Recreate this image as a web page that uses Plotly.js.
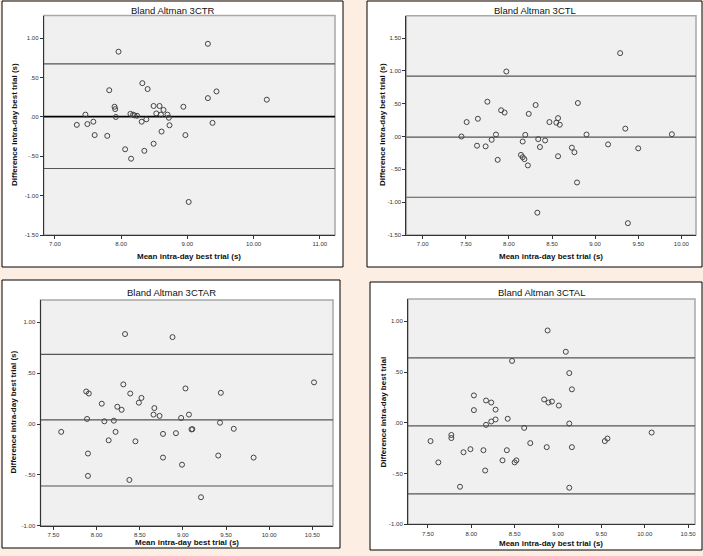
<!DOCTYPE html>
<html>
<head>
<meta charset="utf-8">
<script src="https://cdn.plot.ly/plotly-3.0.1.min.js"></script>
<style>html,body{margin:0;padding:0;background:#fdeee3;}#chart{width:703px;height:556px;}</style>
</head>
<body>
<div id="chart"></div>
<script>
// ---------- DATA ----------
const titles = ["Bland Altman 3CTR", "Bland Altman 3CTL", "Bland Altman 3CTAR", "Bland Altman 3CTAL"];
const xTitle = "Mean intra-day best trial (s)";
const yTitles = ["Difference intra-day best trial (s)", "Difference intra-day best trial (s)",
                 "Difference intra-day best trial (s)", "Difference intra-day best trial"];

// 3CTR
const ctrMean = [7.33,7.46,7.49,7.58,7.60,7.79,7.82,7.90,7.91,7.92,7.96,8.06,8.14,8.15,8.18,8.20,8.24,8.32,8.31,8.35,
                 8.38,8.40,8.49,8.49,8.53,8.58,8.60,8.61,8.64,8.70,8.72,8.73,8.94,8.97,9.02,9.31,9.31,9.38,9.44,10.20];
const ctrDiff = [-0.10,0.03,-0.09,-0.06,-0.23,-0.24,0.34,0.13,0.10,0.00,0.83,-0.41,0.04,-0.53,0.03,0.02,0.015,0.43,-0.06,-0.43,
                 -0.03,0.355,0.14,-0.34,0.045,0.14,0.03,-0.185,0.09,0.03,-0.01,-0.105,0.13,-0.23,-1.08,0.93,0.24,-0.075,0.325,0.22];
// 3CTL
const ctlMean = [7.45,7.51,7.63,7.64,7.73,7.75,7.80,7.85,7.87,7.91,7.95,7.97,8.14,8.16,8.16,8.18,8.19,8.22,8.23,8.31,
                 8.33,8.34,8.36,8.42,8.47,8.55,8.57,8.57,8.59,8.73,8.76,8.79,8.80,8.90,9.15,9.29,9.35,9.38,9.50,9.89];
const ctlDiff = [0.00,0.22,-0.14,0.27,-0.15,0.53,-0.05,0.03,-0.355,0.40,0.365,0.99,-0.28,-0.315,-0.076,-0.345,0.025,-0.44,0.345,0.48,
                 -1.16,-0.04,-0.16,-0.06,0.22,0.21,0.28,-0.30,0.18,-0.17,-0.24,-0.70,0.51,0.03,-0.12,1.27,0.12,-1.32,-0.18,0.035];
// 3CTAR
const ctarMean = [7.59,7.88,7.91,7.89,7.90,7.90,8.06,8.09,8.14,8.20,8.22,8.24,8.29,8.31,8.33,8.38,8.39,8.45,8.49,8.52,
                  8.66,8.67,8.73,8.77,8.77,8.88,8.92,8.98,8.99,9.03,9.07,9.10,9.11,9.21,9.41,9.43,9.44,9.59,9.82,10.52];
const ctarDiff = [-0.077,0.32,0.30,0.05,-0.29,-0.51,0.20,0.027,-0.16,0.033,-0.077,0.17,0.14,0.39,0.885,-0.55,0.30,-0.17,0.21,0.257,
                  0.093,0.157,0.08,-0.097,-0.33,0.855,-0.09,0.06,-0.40,0.35,0.093,-0.053,-0.05,-0.72,-0.31,0.013,0.307,-0.047,-0.33,0.41];
// 3CTAL
const ctalMean = [7.53,7.62,7.77,7.77,7.87,7.91,7.99,8.03,8.03,8.14,8.16,8.17,8.17,8.23,8.23,8.28,8.28,8.36,8.41,8.42,
                  8.47,8.50,8.52,8.61,8.68,8.84,8.87,8.88,8.89,8.93,9.01,9.09,9.13,9.13,9.13,9.16,9.16,9.54,9.57,10.08];
const ctalDiff = [-0.18,-0.39,-0.12,-0.15,-0.63,-0.29,-0.26,0.27,0.125,-0.27,-0.47,0.22,-0.02,0.20,0.013,0.033,0.13,-0.37,-0.27,0.04,
                  0.61,-0.39,-0.37,-0.05,-0.20,0.23,-0.24,0.91,0.20,0.21,0.17,0.70,0.49,-0.007,-0.64,-0.24,0.33,-0.18,-0.155,-0.096];

// mean difference and limits of agreement [lower, mean, upper]
const ctrLines  = [-0.655, 0.005, 0.675];
const ctlLines  = [-0.925, -0.01, 0.92];
const ctarLines = [-0.61, 0.04, 0.685];
const ctalLines = [-0.70, -0.03, 0.64];

// tick values / labels
const xTickVals1 = [7, 8, 9, 10, 11];
const xTickText1 = ["7.00", "8.00", "9.00", "10.00", "11.00"];
const xTickVals2 = [7, 7.5, 8, 8.5, 9, 9.5, 10];
const xTickText2 = ["7.00", "7.50", "8.00", "8.50", "9.00", "9.50", "10.00"];
const xTickVals34 = [7.5, 8, 8.5, 9, 9.5, 10, 10.5];
const xTickText34 = ["7.50", "8.00", "8.50", "9.00", "9.50", "10.00", "10.50"];
const yTickVals1 = [-1.5, -1, -0.5, 0, 0.5, 1];
const yTickText1 = ["-1.50", "-1.00", "-.50", ".00", ".50", "1.00"];
const yTickVals2 = [-1.5, -1, -0.5, 0, 0.5, 1, 1.5];
const yTickText2 = ["-1.50", "-1.00", "-.50", ".00", ".50", "1.00", "1.50"];
const yTickVals34 = [-1, -0.5, 0, 0.5, 1];
const yTickText34 = ["-1.00", "-.50", ".00", ".50", "1.00"];

// ---------- LAYOUT GEOMETRY (pixels) ----------
const W = 703, H = 556;
const fx = p => p / W;
const fy = p => 1 - p / H;
const FONT = "Arial, 'Liberation Sans', sans-serif";

const panels = [
  {mean: ctrMean, diff: ctrDiff, lines: ctrLines, plot: [43.7, 15.5, 335, 235], box: [2, 1, 343, 267],
   xr: [6.83, 11.23], yr: [-1.5, 1.29], xtv: xTickVals1, xtt: xTickText1, ytv: yTickVals1, ytt: yTickText1,
   title: [172.5, 10], xt: [189, 256.5], yt: [15, 125], meanColor: "#000", meanWidth: 1.8},
  {mean: ctlMean, diff: ctlDiff, lines: ctlLines, plot: [406.3, 15.7, 696, 235], box: [367, 1, 702, 267],
   xr: [6.81, 10.17], yr: [-1.5, 1.84], xtv: xTickVals2, xtt: xTickText2, ytv: yTickVals2, ytt: yTickText2,
   title: [534.5, 10], xt: [551, 256.5], yt: [383, 125], meanColor: "#555", meanWidth: 1.2},
  {mean: ctarMean, diff: ctarDiff, lines: ctarLines, plot: [40.5, 300, 333, 525.7], box: [2, 280, 340, 548],
   xr: [7.35, 10.74], yr: [-1.0, 1.22], xtv: xTickVals34, xtt: xTickText34, ytv: yTickVals34, ytt: yTickText34,
   title: [171, 292.5], xt: [187, 542], yt: [13.5, 412], meanColor: "#555", meanWidth: 1.2},
  {mean: ctalMean, diff: ctalDiff, lines: ctalLines, plot: [408, 299, 695, 524.3], box: [370, 282, 702, 550],
   xr: [7.27, 10.58], yr: [-1.0, 1.22], xtv: xTickVals34, xtt: xTickText34, ytv: yTickVals34, ytt: yTickText34,
   title: [541, 292.5], xt: [551, 543], yt: [383.5, 412], meanColor: "#555", meanWidth: 1.2}
];

const traces = [];
const shapes = [];
const annotations = [];
const layout = {
  width: W, height: H, autosize: false,
  margin: {l: 0, r: 0, t: 0, b: 0, pad: 0},
  paper_bgcolor: "#fdeee3",
  plot_bgcolor: "rgba(0,0,0,0)",
  showlegend: false,
  font: {family: FONT, color: "#222"}
};

panels.forEach((p, i) => {
  const n = i + 1;
  const xa = n === 1 ? "x" : "x" + n;
  const ya = n === 1 ? "y" : "y" + n;
  const xkey = n === 1 ? "xaxis" : "xaxis" + n;
  const ykey = n === 1 ? "yaxis" : "yaxis" + n;

  traces.push({
    type: "scatter", mode: "markers", x: p.mean, y: p.diff, xaxis: xa, yaxis: ya,
    marker: {symbol: "circle-open", size: 5, color: "#444", line: {width: 1, color: "#444"}},
    hoverinfo: "x+y", cliponaxis: false
  });

  const axCommon = {
    showgrid: false, zeroline: false, showline: true, linecolor: "#333", linewidth: 1,
    ticks: "outside", ticklen: 3, tickwidth: 1, tickcolor: "#333",
    tickfont: {family: FONT, size: 6, color: "#333"}, tickmode: "array", fixedrange: true
  };
  layout[xkey] = Object.assign({}, axCommon, {
    domain: [fx(p.plot[0]), fx(p.plot[2])], range: p.xr, anchor: ya,
    tickvals: p.xtv, ticktext: p.xtt
  });
  layout[ykey] = Object.assign({}, axCommon, {
    domain: [fy(p.plot[3]), fy(p.plot[1])], range: p.yr, anchor: xa,
    tickvals: p.ytv, ticktext: p.ytt
  });

  // white panel box
  shapes.push({type: "rect", xref: "paper", yref: "paper", layer: "below",
    x0: fx(p.box[0]), x1: fx(p.box[2]), y0: fy(p.box[3]), y1: fy(p.box[1]),
    fillcolor: "#ffffff", line: {color: "#000", width: 1}});
  // gray plot area
  shapes.push({type: "rect", xref: xa + " domain", yref: ya + " domain", layer: "below",
    x0: 0, x1: 1, y0: 0, y1: 1, fillcolor: "#f0f0f0", line: {color: "#a8a8a8", width: 1.5}});
  // reference lines
  p.lines.forEach((v, k) => {
    shapes.push({type: "line", xref: xa + " domain", yref: ya, layer: "below",
      x0: 0, x1: 1, y0: v, y1: v,
      line: {color: k === 1 ? p.meanColor : "#555", width: k === 1 ? p.meanWidth : 1.1}});
  });

  annotations.push({text: titles[i], xref: "paper", yref: "paper", x: fx(p.title[0]), y: fy(p.title[1]),
    xanchor: "center", yanchor: "middle", showarrow: false, font: {family: FONT, size: 9.5, color: "#111"}});
  annotations.push({text: "<b>" + xTitle + "</b>", xref: "paper", yref: "paper", x: fx(p.xt[0]), y: fy(p.xt[1]),
    xanchor: "center", yanchor: "middle", showarrow: false, font: {family: FONT, size: 8, color: "#111"}});
  annotations.push({text: "<b>" + yTitles[i] + "</b>", xref: "paper", yref: "paper", x: fx(p.yt[0]), y: fy(p.yt[1]),
    xanchor: "center", yanchor: "middle", textangle: -90, showarrow: false, font: {family: FONT, size: 8, color: "#111"}});
});

layout.shapes = shapes;
layout.annotations = annotations;

Plotly.newPlot("chart", traces, layout, {staticPlot: true, displayModeBar: false});
</script>
</body>
</html>
